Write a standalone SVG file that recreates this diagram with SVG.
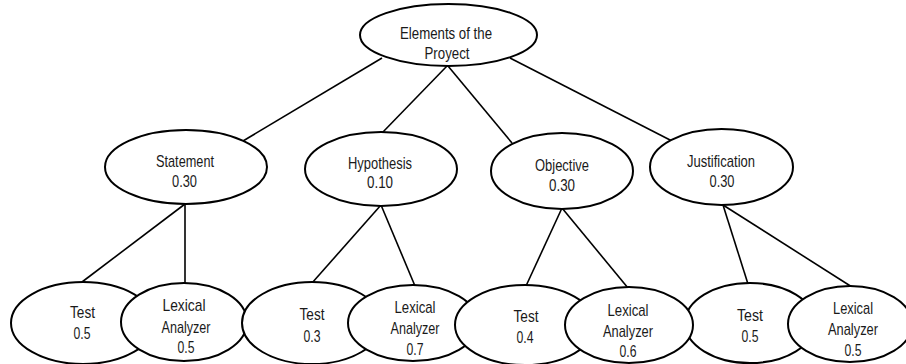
<svg xmlns="http://www.w3.org/2000/svg" width="906" height="364" viewBox="0 0 906 364">
<style>
.n{fill:#fff;stroke:#000;stroke-width:2}
.e line{stroke:#000;stroke-width:1.6}
text{font-family:"Liberation Sans",Arial,sans-serif;font-size:17px;fill:#1a1a1a;text-anchor:middle}
</style>
<rect width="906" height="364" fill="#fff"/>
<g id="connectors" class="e">
<line x1="382" y1="58" x2="243" y2="141"/>
<line x1="447" y1="66" x2="382" y2="133"/>
<line x1="448" y1="66" x2="512" y2="143"/>
<line x1="510" y1="58" x2="672" y2="141"/>
<line x1="185" y1="204" x2="82" y2="282"/>
<line x1="185" y1="204" x2="185" y2="284"/>
<line x1="381" y1="205" x2="312" y2="283"/>
<line x1="381" y1="205" x2="415" y2="286"/>
<line x1="562" y1="208" x2="526" y2="286"/>
<line x1="562" y1="208" x2="628" y2="288"/>
<line x1="723" y1="205" x2="748" y2="284"/>
<line x1="723" y1="205" x2="852" y2="287"/>
</g>
<g id="root">
<ellipse class="n" cx="448.5" cy="35" rx="88.5" ry="31"/>
<text x="446" y="39" textLength="92" lengthAdjust="spacingAndGlyphs">Elements of the</text>
<text x="447" y="58.5" textLength="45" lengthAdjust="spacingAndGlyphs">Proyect</text>
</g>
<g id="statement">
<ellipse class="n" cx="186" cy="167" rx="81" ry="37"/>
<text x="185" y="167" textLength="58" lengthAdjust="spacingAndGlyphs">Statement</text>
<text x="184.5" y="187" textLength="25" lengthAdjust="spacingAndGlyphs">0.30</text>
</g>
<g id="hypothesis">
<ellipse class="n" cx="381" cy="169" rx="76" ry="37"/>
<text x="380" y="169" textLength="64" lengthAdjust="spacingAndGlyphs">Hypothesis</text>
<text x="380" y="188" textLength="26" lengthAdjust="spacingAndGlyphs">0.10</text>
</g>
<g id="objective">
<ellipse class="n" cx="562" cy="171" rx="71" ry="38"/>
<text x="562" y="171" textLength="54" lengthAdjust="spacingAndGlyphs">Objective</text>
<text x="562" y="191" textLength="26" lengthAdjust="spacingAndGlyphs">0.30</text>
</g>
<g id="justification">
<ellipse class="n" cx="721.5" cy="167" rx="71.5" ry="38"/>
<text x="721" y="167" textLength="68" lengthAdjust="spacingAndGlyphs">Justification</text>
<text x="722" y="187" textLength="25" lengthAdjust="spacingAndGlyphs">0.30</text>
</g>
<g id="test1">
<ellipse class="n" cx="83" cy="323" rx="72" ry="41"/>
<text x="82.5" y="318" textLength="25" lengthAdjust="spacingAndGlyphs">Test</text>
<text x="82" y="339" textLength="17" lengthAdjust="spacingAndGlyphs">0.5</text>
</g>
<g id="lex1">
<ellipse class="n" cx="184" cy="322" rx="63" ry="39"/>
<text x="184" y="311" textLength="43" lengthAdjust="spacingAndGlyphs">Lexical</text>
<text x="186" y="333" textLength="49" lengthAdjust="spacingAndGlyphs">Analyzer</text>
<text x="186" y="353" textLength="17" lengthAdjust="spacingAndGlyphs">0.5</text>
</g>
<g id="test2">
<ellipse class="n" cx="312" cy="323" rx="70" ry="41"/>
<text x="312" y="320" textLength="25" lengthAdjust="spacingAndGlyphs">Test</text>
<text x="312" y="342" textLength="17" lengthAdjust="spacingAndGlyphs">0.3</text>
</g>
<g id="lex2">
<ellipse class="n" cx="413" cy="323" rx="65" ry="38"/>
<text x="415" y="313" textLength="41" lengthAdjust="spacingAndGlyphs">Lexical</text>
<text x="415" y="334" textLength="49" lengthAdjust="spacingAndGlyphs">Analyzer</text>
<text x="415" y="355" textLength="17" lengthAdjust="spacingAndGlyphs">0.7</text>
</g>
<g id="test3">
<ellipse class="n" cx="525" cy="325" rx="70" ry="40"/>
<text x="526" y="322" textLength="25" lengthAdjust="spacingAndGlyphs">Test</text>
<text x="525" y="343" textLength="17" lengthAdjust="spacingAndGlyphs">0.4</text>
</g>
<g id="test4">
<ellipse class="n" cx="750" cy="323" rx="65" ry="40"/>
<text x="750" y="321" textLength="26" lengthAdjust="spacingAndGlyphs">Test</text>
<text x="750" y="342" textLength="17" lengthAdjust="spacingAndGlyphs">0.5</text>
</g>
<g id="lex3">
<ellipse class="n" cx="629" cy="325" rx="64" ry="38"/>
<text x="628" y="316" textLength="41" lengthAdjust="spacingAndGlyphs">Lexical</text>
<text x="628" y="337" textLength="50" lengthAdjust="spacingAndGlyphs">Analyzer</text>
<text x="628" y="357" textLength="17" lengthAdjust="spacingAndGlyphs">0.6</text>
</g>
<g id="lex4">
<ellipse class="n" cx="850" cy="324" rx="62" ry="38"/>
<text x="853" y="314" textLength="40" lengthAdjust="spacingAndGlyphs">Lexical</text>
<text x="853" y="335" textLength="50" lengthAdjust="spacingAndGlyphs">Analyzer</text>
<text x="853" y="356" textLength="17" lengthAdjust="spacingAndGlyphs">0.5</text>
</g>
</svg>
